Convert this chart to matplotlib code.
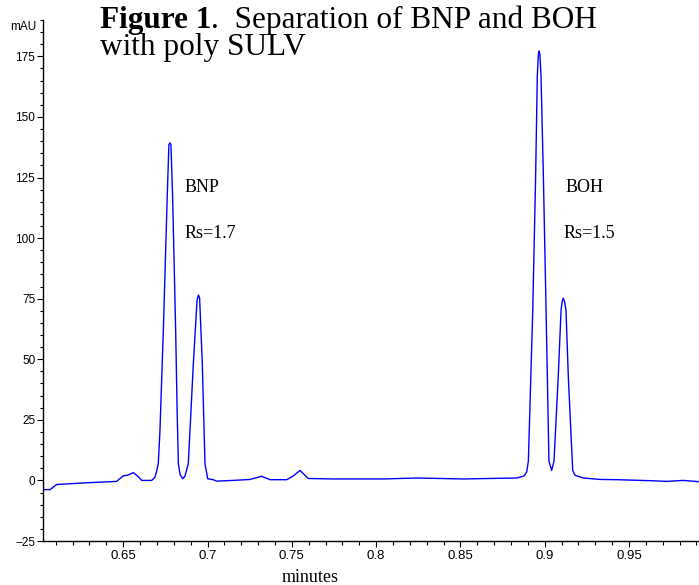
import matplotlib
matplotlib.use("Agg")
import matplotlib.pyplot as plt
from matplotlib.ticker import MultipleLocator, FixedLocator

# chromatogram trace (minutes, mAU)
minutes = [0.6026, 0.6066, 0.6105, 0.6273, 0.6461, 0.6500, 0.6528, 0.6560, 0.6582, 0.6610,
           0.6669, 0.6688, 0.6698, 0.6708, 0.6718, 0.6738, 0.6761, 0.6771, 0.6777, 0.6783,
           0.6793, 0.6811, 0.6820, 0.6827, 0.6837, 0.6853, 0.6866, 0.6886, 0.6916, 0.6938,
           0.6946, 0.6953, 0.6969, 0.6985, 0.7001, 0.7034, 0.7054, 0.7151, 0.7252, 0.7321,
           0.7371, 0.7470, 0.7507, 0.7549, 0.7572, 0.7598, 0.7746, 0.8043, 0.8241, 0.8517,
           0.8834, 0.8877, 0.8893, 0.8903, 0.8929, 0.8946, 0.8956, 0.8962, 0.8966, 0.8971,
           0.8978, 0.8992, 0.9008, 0.9025, 0.9041, 0.9055, 0.9080, 0.9097, 0.9104, 0.9110,
           0.9117, 0.9126, 0.9140, 0.9166, 0.9180, 0.9229, 0.9328, 0.9427, 0.9624, 0.9723,
           0.9822, 0.9911]
mau = [-3.8, -3.8, -1.7, -1.0, -0.4, 1.9, 2.2, 3.2, 2.0, 0.0,
       0.0, 1.3, 3.8, 6.9, 20.7, 62.0, 117.2, 138.6, 139.3, 138.6,
       117.2, 62.0, 28.0, 6.9, 2.5, 0.7, 1.7, 6.9, 48.3, 74.5,
       76.5, 75.3, 48.3, 6.9, 0.7, 0.3, -0.3, 0.0, 0.4, 1.7,
       0.3, 0.3, 1.8, 4.1, 2.5, 0.8, 0.6, 0.6, 1.0, 0.6,
       1.0, 1.8, 3.5, 8.0, 70.3, 125.5, 166.9, 175.5, 177.2, 176.0,
       166.9, 125.5, 70.3, 8.0, 4.1, 8.0, 42.7, 70.3, 74.0, 75.2,
       74.0, 70.3, 42.7, 4.1, 2.1, 1.0, 0.4, 0.3, -0.1, -0.4,
       0.0, -0.5]

peak_labels = ["BNP", "BOH"]
rs_labels = ["Rs=1.7", "Rs=1.5"]
label_x = [0.6866, 0.9126]
rs_x = [0.6866, 0.9114]

x_major = [0.65, 0.70, 0.75, 0.80, 0.85, 0.90, 0.95]
x_major_text = ["0.65", "0.7", "0.75", "0.8", "0.85", "0.9", "0.95"]

serif = "Liberation Serif"
sans = "Liberation Sans"

fig = plt.figure(figsize=(6.99, 5.85), dpi=100)
ax = fig.add_axes([43.3 / 699, 44 / 585, 1 - 43.3 / 699, 521 / 585])

ax.plot(minutes, mau, color="#0000ff", lw=1.0)

ax.set_xlim(0.6026, 0.9915)
ax.set_ylim(-25, 190)

ax.spines["top"].set_visible(False)
ax.spines["right"].set_visible(False)
for s in ["left", "bottom"]:
    ax.spines[s].set_linewidth(1.0)

ax.xaxis.set_major_locator(FixedLocator(x_major))
ax.set_xticklabels(x_major_text)
ax.xaxis.set_minor_locator(MultipleLocator(0.01))
ax.yaxis.set_major_locator(FixedLocator([-25, 0, 25, 50, 75, 100, 125, 150, 175]))
ax.yaxis.set_minor_locator(MultipleLocator(5))

ax.tick_params(axis="x", which="major", length=4.2, width=0.8, pad=2.5, labelsize=9.5)
ax.tick_params(axis="x", which="minor", length=2.8, width=0.8)
ax.tick_params(axis="y", which="major", length=4.3, width=0.8, pad=1.5, labelsize=8.5)
ax.tick_params(axis="y", which="minor", length=2.4, width=0.8)
for lab in ax.get_xticklabels() + ax.get_yticklabels():
    lab.set_family(sans)

for i in range(2):
    ax.text(label_x[i], 118.9, peak_labels[i], family=serif, fontsize=13, va="baseline")
    ax.text(rs_x[i], 100.0, rs_labels[i], family=serif, fontsize=13, va="baseline")

fig.text(36 / 699, 1 - 27.3 / 585, "mAU", family=sans, fontsize=8.5, ha="right", va="center")
fig.text(310 / 699, 1 - 577 / 585, "minutes", family=serif, fontsize=13, ha="center", va="center")

# title: bold "Figure 1" followed by plain text
t1 = fig.text(100 / 699, 1 - 28 / 585, "Figure 1", family=serif, fontsize=22.5,
              fontweight="bold", va="baseline")
ax.annotate(".  Separation of BNP and BOH", xy=(1, 0), xycoords=t1, va="bottom",
            family=serif, fontsize=22.5, annotation_clip=False)
fig.text(100 / 699, 1 - 55 / 585, "with poly SULV", family=serif, fontsize=22.5, va="baseline")

fig.savefig("out.png", dpi=100)
